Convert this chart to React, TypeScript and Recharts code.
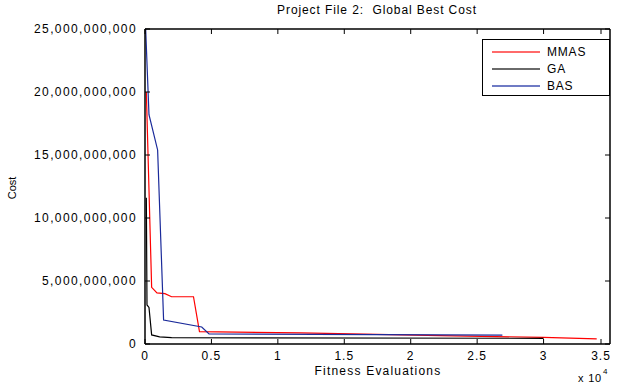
import { LineChart, Line, XAxis, YAxis } from "recharts";

// fitness evaluations / global best cost
const mmas = [
  { x: 100, y: 20.0e9 },
  { x: 500, y: 4.5e9 },
  { x: 900, y: 4.06e9 },
  { x: 1500, y: 4.0e9 },
  { x: 2000, y: 3.75e9 },
  { x: 3650, y: 3.75e9 },
  { x: 4100, y: 0.98e9 },
  { x: 11700, y: 0.88e9 },
  { x: 22200, y: 0.66e9 },
  { x: 30000, y: 0.53e9 },
  { x: 34000, y: 0.4e9 },
];
const ga = [
  { x: 100, y: 11.6e9 },
  { x: 150, y: 3.1e9 },
  { x: 300, y: 2.9e9 },
  { x: 500, y: 0.72e9 },
  { x: 1100, y: 0.56e9 },
  { x: 2000, y: 0.5e9 },
  { x: 30000, y: 0.45e9 },
];
const bas = [
  { x: 50, y: 25.0e9 },
  { x: 300, y: 18.2e9 },
  { x: 950, y: 15.4e9 },
  { x: 1400, y: 1.9e9 },
  { x: 4270, y: 1.35e9 },
  { x: 4820, y: 0.8e9 },
  { x: 26900, y: 0.7e9 },
];
const xTicks = [0, 5000, 10000, 15000, 20000, 25000, 30000, 35000];
const yTicks = [0, 5e9, 10e9, 15e9, 20e9, 25e9];
const series = [
  { name: "MMAS", data: mmas, color: "#ff0000", key: "#ff6a6a" },
  { name: "GA", data: ga, color: "#000000", key: "#6a6a6a" },
  { name: "BAS", data: bas, color: "#1a2a9a", key: "#6f7bc4" },
];

const FONT = "'Liberation Sans', Arial, sans-serif";

function fmtX(v: number) {
  return String(v / 10000);
}
function fmtY(v: number) {
  return v.toLocaleString("en-US");
}

const BottomTick = (p: any) => (
  <g>
    <line x1={p.x} x2={p.x} y1={p.y} y2={p.y - 5} stroke="#000" />
    <text x={p.x} y={p.y + 16} textAnchor="middle" fontSize={12} letterSpacing={1} fill="#000" fontFamily={FONT}>
      {fmtX(p.payload.value)}
    </text>
  </g>
);
const TopTick = (p: any) => <line x1={p.x} x2={p.x} y1={p.y} y2={p.y + 5} stroke="#000" />;
const LeftTick = (p: any) => (
  <g>
    <line x1={p.x} x2={p.x + 5} y1={p.y} y2={p.y} stroke="#000" />
    <text x={p.x - 8} y={p.y + 4} textAnchor="end" fontSize={12} letterSpacing={1.4} fill="#000" fontFamily={FONT}>
      {fmtY(p.payload.value)}
    </text>
  </g>
);
const RightTick = (p: any) => <line x1={p.x} x2={p.x - 5} y1={p.y} y2={p.y} stroke="#000" />;

export default function App() {
  return (
    <div style={{ position: "absolute", left: 0, top: 0, width: 621, height: 386, background: "#fff", fontFamily: FONT }}>
      <LineChart width={621} height={386} margin={{ top: 28, right: 10, bottom: 12, left: 10 }}>
        <XAxis
          xAxisId="b"
          type="number"
          dataKey="x"
          domain={[0, 35000]}
          ticks={xTicks}
          tick={BottomTick}
          tickSize={0}
          tickMargin={0}
          tickLine={false}
          axisLine={{ stroke: "#000", strokeWidth: 1.5 }}
          height={30}
          allowDataOverflow
        />
        <XAxis
          xAxisId="t"
          orientation="top"
          type="number"
          dataKey="x"
          domain={[0, 35000]}
          ticks={xTicks}
          tick={TopTick}
          tickSize={0}
          tickMargin={0}
          tickLine={false}
          axisLine={{ stroke: "#000", strokeWidth: 1.5 }}
          height={1}
          allowDataOverflow
        />
        <YAxis
          yAxisId="l"
          type="number"
          domain={[0, 25e9]}
          ticks={yTicks}
          tick={LeftTick}
          tickSize={0}
          tickMargin={0}
          tickLine={false}
          axisLine={{ stroke: "#000", strokeWidth: 1.5 }}
          width={135}
          allowDataOverflow
        />
        <YAxis
          yAxisId="r"
          orientation="right"
          type="number"
          domain={[0, 25e9]}
          ticks={yTicks}
          tick={RightTick}
          tickSize={0}
          tickMargin={0}
          tickLine={false}
          axisLine={{ stroke: "#000", strokeWidth: 1.5 }}
          width={1}
          allowDataOverflow
        />
        {/* invisible copy so the top / right frame axes get drawn */}
        <Line xAxisId="t" yAxisId="r" data={bas} dataKey="y" stroke="transparent" dot={false} legendType="none" isAnimationActive={false} />
        {series.map((s) => (
          <Line
            key={s.name}
            xAxisId="b"
            yAxisId="l"
            data={s.data}
            dataKey="y"
            name={s.name}
            stroke={s.color}
            strokeWidth={1.2}
            dot={false}
            isAnimationActive={false}
          />
        ))}
        <text x={377} y={14} textAnchor="middle" fontSize={12} letterSpacing={0.9} fontFamily={FONT} fill="#000" style={{ whiteSpace: "pre" }}>
          Project File 2:  Global Best Cost
        </text>
        <text x={378} y={375} textAnchor="middle" fontSize={12} letterSpacing={1.2} fontFamily={FONT} fill="#000">
          Fitness Evaluations
        </text>
        <text x={578} y={382} fontSize={11} letterSpacing={0.8} fontFamily={FONT} fill="#000">
          x 10
        </text>
        <text x={603} y={374} fontSize={8} fontFamily={FONT} fill="#000">
          4
        </text>
        <text x={0} y={0} transform="translate(16,188) rotate(-90)" textAnchor="middle" fontSize={11} fontFamily={FONT} fill="#000">
          Cost
        </text>
      </LineChart>
      <div
        style={{
          position: "absolute",
          left: 482,
          top: 39,
          width: 128,
          height: 57,
          border: "1px solid #000",
          background: "#fff",
          fontSize: 12,
          letterSpacing: 0.8,
          boxSizing: "border-box",
          paddingTop: 3,
        }}
      >
        {series.map((s) => (
          <div key={s.name} style={{ display: "flex", alignItems: "center", height: 17 }}>
            <span style={{ display: "block", width: 48, height: 2, backgroundColor: s.key, marginLeft: 9, marginRight: 7 }} />
            <span>{s.name}</span>
          </div>
        ))}
      </div>
    </div>
  );
}
